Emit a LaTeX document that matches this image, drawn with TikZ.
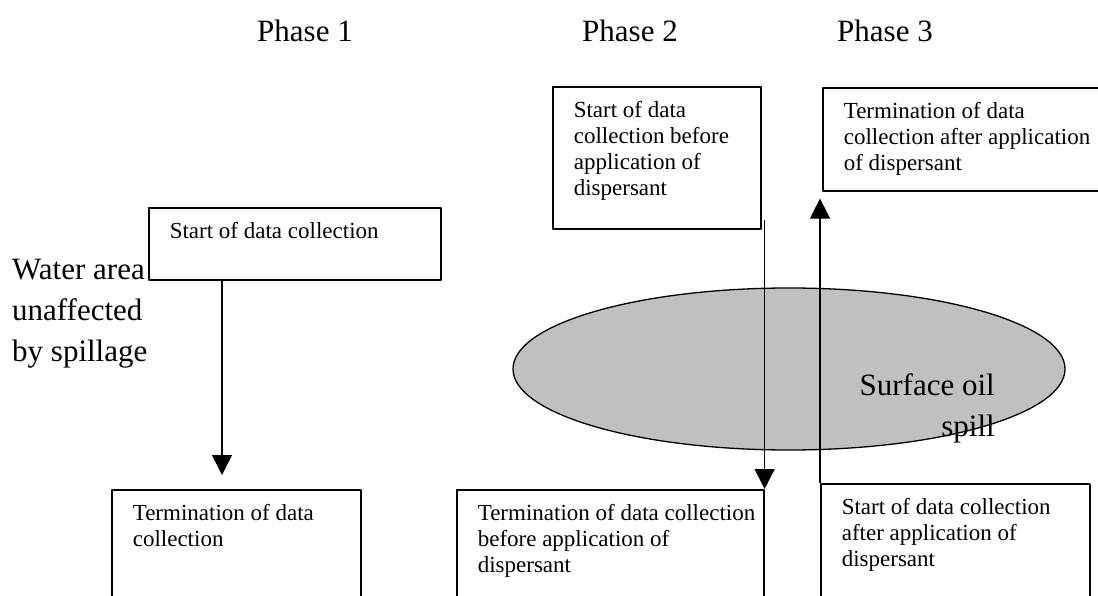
\documentclass[tikz,border=0pt]{standalone}
\usepackage{fontspec}
\setmainfont{Liberation Serif}
\usetikzlibrary{arrows.meta,shapes.geometric}
\definecolor{spillgray}{RGB}{192,192,192}
\newcommand{\boxfont}{\fontsize{23}{26}\selectfont}
\newcommand{\bigfont}{\fontsize{31}{41}\selectfont}
\newcommand{\stagetext}[3]{\parbox[t][#2][t]{#1}{\raggedright\leftskip=21pt\rule{0pt}{31pt}#3}}
\tikzset{
  stage/.style={draw,line width=1.6pt,anchor=north west,inner sep=0pt,font=\boxfont},
  flow/.style={line width=1.4pt,-{Triangle[width=20pt,length=20pt]}},
  label/.style={inner sep=0pt,font=\bigfont},
}
\begin{document}
\begin{tikzpicture}[x=1pt,y=-1pt,line join=bevel]
\useasboundingbox (0,0) rectangle (1098,596);
\clip (0,0) rectangle (1098,596);
%%
\node (phase_1) at (305,42) [label,anchor=base] {Phase 1};
\node (phase_2) at (630,42) [label,anchor=base] {Phase 2};
\node (phase_3) at (885,42) [label,anchor=base] {Phase 3};
%
\node (spill) at (789,369) [ellipse,draw,line width=1.3pt,fill=spillgray,minimum width=552pt,minimum height=162pt,inner sep=0pt] {};
\node (spill_text) at (995,373) [label,anchor=north east,align=right] {Surface oil\\spill};
\node (water) at (12,259) [label,anchor=north west,align=left] {Water area\\unaffected\\by spillage};
%
\node (start_1) at (148,207) [stage] {\stagetext{292pt}{72pt}{Start of data collection}};
\node (term_1) at (111,489) [stage] {\stagetext{249pt}{130pt}{Termination of data\\collection}};
\node (start_pre) at (552,86) [stage] {\stagetext{208pt}{142pt}{Start of data\\collection before\\application of\\dispersant}};
\node (term_pre) at (456,489) [stage] {\stagetext{307pt}{130pt}{Termination of data collection\\before application of\\dispersant}};
\node (start_post) at (820,483) [stage] {\stagetext{269pt}{130pt}{Start of data collection\\after application of\\dispersant}};
\node (term_post) at (822,87) [stage] {\stagetext{300pt}{103pt}{Termination of data\\collection after application\\of dispersant}};
%
\coordinate (drop_1) at (222,0);
\draw [flow] (start_1.south -| drop_1) -- ([yshift=14pt]term_1.north -| drop_1);
\draw [flow] ([yshift=10pt]term_pre.north east |- start_pre.south) -- (term_pre.north east);
\draw [flow] (start_post.north west) -- ([yshift=-7pt]start_post.north west |- term_post.south);
%
\end{tikzpicture}
\end{document}
